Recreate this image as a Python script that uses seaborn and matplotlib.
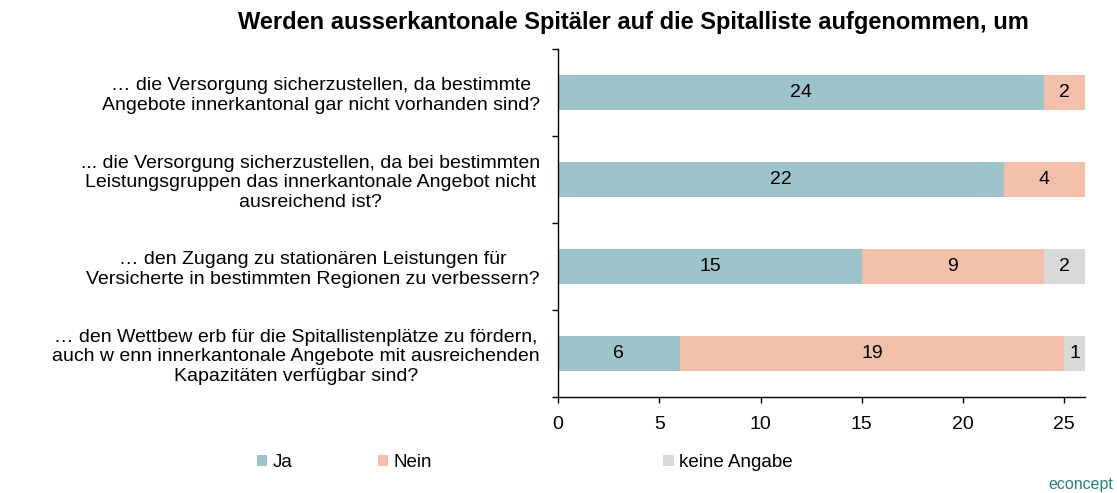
import pandas as pd
import numpy as np
import matplotlib
matplotlib.use('Agg')
import matplotlib.pyplot as plt
import seaborn as sns
from matplotlib.patches import Patch

# Data
questions = [
    '… die Versorgung sicherzustellen, da bestimmte\nAngebote innerkantonal gar nicht vorhanden sind?',
    '... die Versorgung sicherzustellen, da bei bestimmten\nLeistungsgruppen das innerkantonale Angebot nicht\nausreichend ist?',
    '… den Zugang zu stationären Leistungen für\nVersicherte in bestimmten Regionen zu verbessern?',
    '… den Wettbew erb für die Spitallistenplätze zu fördern,\nauch w enn innerkantonale Angebote mit ausreichenden\nKapazitäten verfügbar sind?',
]
ja = [24, 22, 15, 6]
nein = [2, 4, 9, 19]
keine_angabe = [0, 0, 2, 1]

series_names = ['Ja', 'Nein', 'keine Angabe']
colors = ['#9DC3CB', '#F2BFAA', '#D9D9D9']

sns.set_style('white')
plt.rcParams['font.family'] = ['Liberation Sans', 'DejaVu Sans']
plt.rcParams['text.color'] = 'black'
plt.rcParams['xtick.color'] = 'black'
plt.rcParams['ytick.color'] = 'black'

df = pd.DataFrame({'frage': questions, 'Ja': ja, 'Nein': nein, 'keine Angabe': keine_angabe})
df['cum_ja'] = df['Ja']
df['cum_nein'] = df['Ja'] + df['Nein']
df['cum_total'] = df['cum_nein'] + df['keine Angabe']

fig = plt.figure(figsize=(11.17, 4.93), dpi=100)
ax = fig.add_axes([0.4996, 0.1947, 0.4714, 0.706])

# stacked bars: draw totals back to front
for col, c in zip(['cum_total', 'cum_nein', 'cum_ja'], colors[::-1]):
    sns.barplot(data=df, y='frage', x=col, color=c, orient='h', width=0.41,
                saturation=1, ax=ax, linewidth=0)

# value labels
for i, row in df.iterrows():
    starts = [0, row['Ja'], row['Ja'] + row['Nein']]
    for s, v in zip(starts, [row['Ja'], row['Nein'], row['keine Angabe']]):
        if v > 0:
            ax.text(s + v / 2, i, str(v), ha='center', va='center', fontsize=14, color='black')

ax.set_xlim(0, 26)
ax.set_ylim(len(questions) - 0.5, -0.5)
ax.set_xticks([0, 5, 10, 15, 20, 25])
ax.set_xlabel('')
ax.set_ylabel('')
ax.tick_params(axis='x', labelsize=14, length=4, width=1, bottom=True, direction='out', pad=10)
ax.tick_params(axis='y', labelsize=14, length=0, pad=13)
ax.set_yticks(range(len(questions)))
ax.set_yticklabels(questions, ha='right', multialignment='center', linespacing=1.2)
ax.set_yticks(np.arange(-0.5, len(questions), 1), minor=True)
ax.tick_params(axis='y', which='minor', left=True, length=4, width=1, direction='out')

for side in ['top', 'right']:
    ax.spines[side].set_visible(False)
for side in ['left', 'bottom']:
    ax.spines[side].set_color('black')
    ax.spines[side].set_linewidth(1)

fig.text(0.567, 0.955, 'Werden ausserkantonale Spitäler auf die Spitalliste aufgenommen, um',
         ha='center', va='center', fontsize=17, fontweight='bold')

# legend items sit at uneven positions, so one legend each
legend_x = [0.23, 0.338, 0.594]
for n, c, lx in zip(series_names, colors, legend_x):
    h = Patch(facecolor=c, edgecolor='none', label=n)
    fig.legend(handles=[h], loc='center left', bbox_to_anchor=(lx, 0.062),
               frameon=False, fontsize=13.5, handlelength=0.55, handleheight=0.55,
               handletextpad=0.3, borderpad=0, borderaxespad=0)

fig.text(0.997, 0.018, 'econcept', ha='right', va='center', fontsize=11.5, color='#2A8080')

fig.savefig('out.png', dpi=100)
